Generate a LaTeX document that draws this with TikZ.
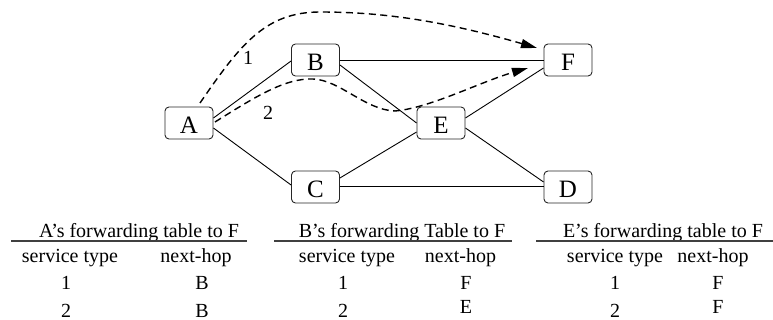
\documentclass[tikz,border=0pt]{standalone}
\usepackage{fontspec}
\setmainfont{Liberation Serif}
\usetikzlibrary{arrows.meta,calc}
\begin{document}
\begin{tikzpicture}[x=1pt,y=-1pt,
  router/.style={draw=black!85, line width=0.9pt, rounded corners=4pt,
    minimum width=48pt, minimum height=32pt, inner sep=0pt,
    font=\fontsize{25}{25}\selectfont, text height=22pt, text depth=0pt},
  link/.style={line width=0.9pt},
  route/.style={line width=1.4pt, dash pattern=on 7pt off 4.5pt,
    -{Triangle[length=16pt,width=9pt]}},
  cell/.style={anchor=base, inner sep=0pt, font=\fontsize{20}{20}\selectfont},
  pathlabel/.style={inner sep=0pt, font=\fontsize{20}{20}\selectfont},
  rule/.style={line width=1.1pt, draw=black!75}
]
\useasboundingbox (0,0) rectangle (773,320);

% routers
\node[router] (A) at (189,123) {A};
\node[router] (B) at (315.5,60) {B};
\node[router] (C) at (315.5,187) {C};
\node[router] (E) at (441,123) {E};
\node[router] (F) at (568,60) {F};
\node[router] (D) at (568,187) {D};

% physical links
\draw[link] ($(A.east)+(0,-5)$) -- ($(B.west)+(0,1)$);
\draw[link] ($(A.east)+(0,5)$) -- ($(C.west)+(0,-2)$);
\draw[link] (B.east) -- (F.west);
\draw[link] ($(B.east)+(0,5)$) -- (E.west);
\draw[link] ($(C.east)+(0,-9)$) -- ($(E.west)+(0,9)$);
\draw[link] ($(C.east)+(0,-1)$) -- ($(D.west)+(0,-1)$);
\draw[link] ($(E.east)+(0,-5)$) -- ($(F.west)+(0,8)$);
\draw[link] ($(E.east)+(0,5)$) -- ($(D.west)+(0,-5)$);

% service-type routes toward F
\coordinate (r1s) at (200,103);
\coordinate (r1e) at (537,48);
\coordinate (r2s) at (215,122);
\coordinate (r2e) at (528,68);
\draw[route] (r1s) .. controls (240,45) and (265,12) .. (320,12)
  .. controls (380,12) and (440,20) .. (r1e);
\draw[route] (r2s) .. controls (255,97) and (285,78) .. (313,79)
  .. controls (340,80) and (365,110) .. (395,111)
  .. controls (430,108) and (480,82) .. (r2e);
\node[pathlabel] (l1) at (248,58) {1};
\node[pathlabel] (l2) at (268,113) {2};

% A's table
\node[cell] (ta) at (139,237) {A’s forwarding table to F};
\draw[rule] (11,241) -- (247,241);
\node[cell] (ta1) at (70,262) {service type};
\node[cell] (ta2) at (196,262) {next-hop};
\node[cell] (ta3) at (66,289) {1};
\node[cell] (ta4) at (202,289) {B};
\node[cell] (ta5) at (66,317) {2};
\node[cell] (ta6) at (202,317) {B};

% B's table
\node[cell] (tb) at (402,237) {B’s forwarding Table to F};
\draw[rule] (274,241) -- (512,241);
\node[cell] (tb1) at (347,262) {service type};
\node[cell] (tb2) at (460.5,262) {next-hop};
\node[cell] (tb3) at (343,289) {1};
\node[cell] (tb4) at (466,289) {F};
\node[cell] (tb5) at (343,317) {2};
\node[cell] (tb6) at (466,313) {E};

% E's table
\node[cell] (te) at (663,237) {E’s forwarding table to F};
\draw[rule] (536,241) -- (773,241);
\node[cell] (te1) at (615,262) {service type};
\node[cell] (te2) at (713,262) {next-hop};
\node[cell] (te3) at (615,289) {1};
\node[cell] (te4) at (718,289) {F};
\node[cell] (te5) at (615,317) {2};
\node[cell] (te6) at (718,313) {F};
\end{tikzpicture}
\end{document}
